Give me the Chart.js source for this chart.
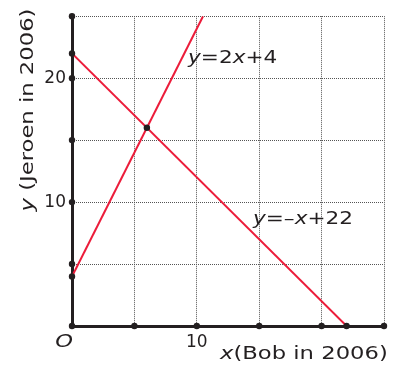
<!DOCTYPE html>
<html><head><meta charset="utf-8">
<script src="https://cdn.jsdelivr.net/npm/chart.js@4.4.1/dist/chart.umd.min.js"></script>
<style>html,body{margin:0;padding:0;background:#fff}#wrap{width:395px;height:367px}</style>
</head><body><div id="wrap"><canvas id="c" width="395" height="367"></canvas></div>
<script>
// data
const lineA = [{x:0,y:4},{x:10.5,y:25}];   // y = 2x + 4
const lineB = [{x:0,y:22},{x:22,y:0}];     // y = -x + 22
const keyPoints = [{x:0,y:4},{x:0,y:22},{x:6,y:16},{x:22,y:0}];
const axisTicks = [0,5,10,15,20,25];
const xTickLabels = {10:'10'};
const yTickLabels = {10:'10',20:'20'};
const labelA = ['y','=2','x','+4'];
const labelB = ['y','=\u2013','x','+22'];
const xTitle = ['x','(Bob in 2006)'];
const yTitle = ['y',' (Jeroen in 2006)'];

const INK = '#231f20';
const RED = '#ec1c3a';
const FONT = '"DejaVu Sans", Verdana, sans-serif';

const tickDots = axisTicks.map(v=>({x:v,y:0})).concat(axisTicks.slice(1).map(v=>({x:0,y:v})));

function mixedWidth(ctx, parts, size){
  let w = 0;
  parts.forEach((p,i)=>{
    ctx.font = (i % 2 === 0 ? 'italic ' : '') + size + 'px ' + FONT;
    w += ctx.measureText(p).width;
  });
  return w;
}
function drawMixed(ctx, parts, size, stretch){
  ctx.save();
  ctx.scale(stretch, 1);
  let cx = 0;
  parts.forEach((p,i)=>{
    ctx.font = (i % 2 === 0 ? 'italic ' : '') + size + 'px ' + FONT;
    ctx.fillText(p, cx, 0);
    cx += ctx.measureText(p).width;
  });
  ctx.restore();
}

const textPlugin = {
  id: 'texts',
  afterDraw(chart){
    const ctx = chart.ctx;
    const xs = chart.scales.x, ys = chart.scales.y;
    ctx.save();
    ctx.fillStyle = INK;
    ctx.textBaseline = 'alphabetic';
    ctx.textAlign = 'left';
    // line labels
    ctx.save(); ctx.translate(xs.getPixelForValue(9.3), ys.getPixelForValue(21.2));
    drawMixed(ctx, labelA, 18, 1.2); ctx.restore();
    ctx.save(); ctx.translate(xs.getPixelForValue(14.5), ys.getPixelForValue(8.2));
    drawMixed(ctx, labelB, 18, 1.2); ctx.restore();
    // origin
    ctx.save(); ctx.translate(xs.getPixelForValue(0) - 8, ys.getPixelForValue(0) + 21);
    ctx.scale(1.25, 1);
    ctx.font = 'italic 18px ' + FONT; ctx.textAlign = 'center';
    ctx.fillText('O', 0, 0); ctx.restore();
    // x title
    ctx.save(); ctx.translate(220, 359);
    drawMixed(ctx, xTitle, 18, 1.26); ctx.restore();
    // y title
    ctx.save();
    ctx.translate(33, 110);
    ctx.rotate(-Math.PI/2);
    const w = mixedWidth(ctx, yTitle, 18) * 1.26;
    ctx.translate(-w/2, 0);
    drawMixed(ctx, yTitle, 18, 1.26);
    ctx.restore();
    ctx.restore();
  }
};

const gridColor = c => (c.tick && c.tick.value === 0) ? 'rgba(0,0,0,0)' : '#555';

new Chart(document.getElementById('c'), {
  type: 'scatter',
  data: {
    datasets: [
      {data: keyPoints.concat(tickDots), pointRadius: 3.2, pointBackgroundColor: INK, pointBorderWidth: 0, showLine: false, order: 0, clip: false},
      {data: lineA, showLine: true, borderColor: RED, borderWidth: 2, pointRadius: 0, order: 1},
      {data: lineB, showLine: true, borderColor: RED, borderWidth: 2, pointRadius: 0, order: 1}
    ]
  },
  options: {
    responsive: false,
    animation: false,
    devicePixelRatio: 1,
    layout: {padding: {top: 12, right: 11, left: 0, bottom: 0}},
    plugins: {legend: {display: false}, tooltip: {enabled: false}},
    scales: {
      x: {
        type: 'linear', min: 0, max: 25,
        ticks: {stepSize: 5, autoSkip: false, maxRotation: 0, padding: 6, color: INK,
          font: {family: FONT, size: 17},
          callback: v => xTickLabels[v] || ''},
        grid: {color: gridColor, lineWidth: 1, drawTicks: false},
        border: {display: true, color: INK, width: 3, dash: [1,1]},
        afterFit: s => { s.height = 41; }
      },
      y: {
        type: 'linear', min: 0, max: 25,
        ticks: {stepSize: 5, autoSkip: false, padding: 6, color: INK,
          font: {family: FONT, size: 17},
          callback: v => yTickLabels[v] || ''},
        grid: {color: gridColor, lineWidth: 1, drawTicks: false},
        border: {display: true, color: INK, width: 3, dash: [1,1]},
        afterFit: s => { s.width = 72; }
      }
    }
  },
  plugins: [textPlugin]
});
</script>
</body></html>
